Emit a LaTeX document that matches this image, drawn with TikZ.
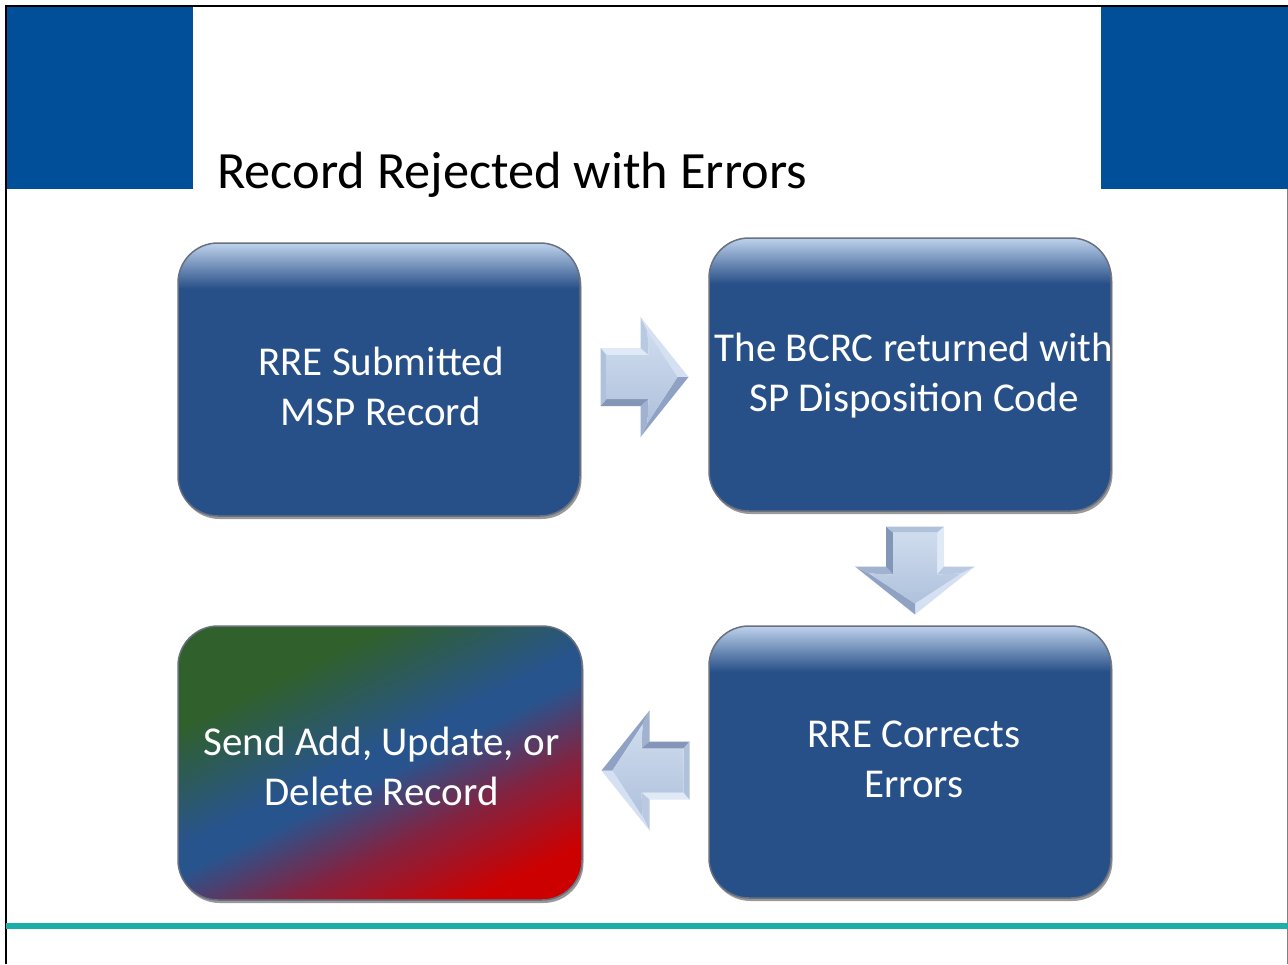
\documentclass[tikz,border=0pt]{standalone}
\usepackage{fontspec}
\setmainfont{Carlito}
\usetikzlibrary{shadows,calc}
\definecolor{hdrblue}{RGB}{0,79,152}
\definecolor{boxblue}{RGB}{40,80,136}
\definecolor{boxhi}{RGB}{190,210,236}
\definecolor{boxedge}{RGB}{105,112,128}
\definecolor{lineteal}{RGB}{28,174,168}
\definecolor{ggreen}{RGB}{48,96,44}
\definecolor{gblue}{RGB}{40,84,142}
\definecolor{gmid}{RGB}{130,35,65}
\definecolor{gred}{RGB}{205,0,0}
\definecolor{arrA}{RGB}{224,233,246}
\definecolor{arrB}{RGB}{185,201,226}
\definecolor{arrC}{RGB}{213,225,242}
\definecolor{arrD}{RGB}{143,162,196}
\definecolor{arrE}{RGB}{160,178,208}
\definecolor{arrF}{RGB}{132,150,184}
\definecolor{arrG}{RGB}{176,193,220}
\definecolor{arrT}{RGB}{207,220,238}
\definecolor{arrU}{RGB}{175,193,220}
\pgfdeclarehorizontalshading{grb}{100bp}{color(0bp)=(ggreen); color(31bp)=(ggreen); color(48bp)=(gblue); color(52bp)=(gblue); color(63bp)=(gmid); color(76bp)=(gred); color(100bp)=(gred)}
\tikzset{
  blockarrow/.pic={
    \fill[arrA] (-44,-29) -- (-4,-29) -- (4,-22) -- (-38,-22) -- cycle;
    \fill[arrB] (-4,-29) -- (-4,-60) -- (3,-46) -- (4,-22) -- cycle;
    \fill[arrC] (-4,-60) -- (44,0) -- (33,0) -- (3,-46) -- cycle;
    \fill[arrD] (44,0) -- (-4,60) -- (3,46) -- (33,0) -- cycle;
    \fill[arrE] (-4,60) -- (-4,29) -- (4,22) -- (3,46) -- cycle;
    \fill[arrF] (-4,29) -- (-44,29) -- (-38,22) -- (4,22) -- cycle;
    \fill[arrG] (-44,29) -- (-44,-29) -- (-38,-22) -- (-38,22) -- cycle;
    \shade[top color=arrT, bottom color=arrU] (-38,-22) -- (4,-22) -- (3,-46) -- (33,0) -- (3,46) -- (4,22) -- (-38,22) -- cycle;
  }
}
\begin{document}
\begin{tikzpicture}[x=1pt,y=-1pt,
  boxbase/.style={rounded corners=40pt, minimum width=402pt, minimum height=273pt,
    inner sep=0pt, draw=boxedge, line width=1.5pt,
    drop shadow={shadow xshift=1.5pt, shadow yshift=-3pt, opacity=0.4, fill=black}},
  bluebox/.style={boxbase, fill=boxblue,
    path picture={
      \foreach \i [evaluate=\i as \p using {100-2.2*\i}, evaluate=\i as \j using {\i+1.3}] in {0,...,45}
        {\fill[sharp corners, boxhi!\p!boxblue] ([yshift=-\i pt]path picture bounding box.north west) rectangle ([yshift=-\j pt]path picture bounding box.north east);}
    }},
  gradbox/.style={boxbase, shading=grb, shading angle=-64},
  boxtext/.style={align=center, text=white, font=\fontsize{41}{50}\selectfont, inner sep=0pt},
  title/.style={anchor=base west, font=\fontsize{52.4}{60}\selectfont, text=black, inner sep=0pt}
]
\useasboundingbox (0,0) rectangle (1288,964);
\fill[white] (0,0) rectangle (1288,964);
\fill[hdrblue] (6,6) rectangle (193,189);
\fill[hdrblue] (1101,6) rectangle (1288,189);
\draw[black, line width=1.5pt] (6,964) -- (6,6) -- (1288,6);
\draw[gray, line width=1pt] (1287,189) -- (1287,964);
\fill[lineteal] (6,923) rectangle (1288,929);

\node[title] (t) at (217,188) {Record Rejected with Errors};

\node[bluebox] (b1) at (379,379.5) {};
\node[bluebox] (b2) at (910,374.5) {};
\node[bluebox, minimum height=272pt] (b3) at (910,762) {};
\node[gradbox, minimum width=404pt, minimum height=274pt] (b4) at (380,763) {};

\node[boxtext] (t1) at ($(b1.center)+(2,7)$) {RRE Submitted\\MSP Record};
\node[boxtext] (t2) at ($(b2.center)+(4,1)$) {The BCRC returned with\\SP Disposition Code};
\node[boxtext] (t3) at ($(b3.center)+(4,-2.5)$) {RRE Corrects\\Errors};
\node[boxtext] (t4) at ($(b4.center)+(1.5,3.5)$) {Send Add, Update, or\\Delete Record};

\pic at ($(b1.east)!0.5!(b2.west)$) {blockarrow};
\pic[rotate=-90] at ($(b2.south)!0.5!(b3.north)+(5,2)$) {blockarrow};
\pic[rotate=180] at ($(b3.west)!0.5!(b4.east)+(0,8)$) {blockarrow};
\end{tikzpicture}
\end{document}
